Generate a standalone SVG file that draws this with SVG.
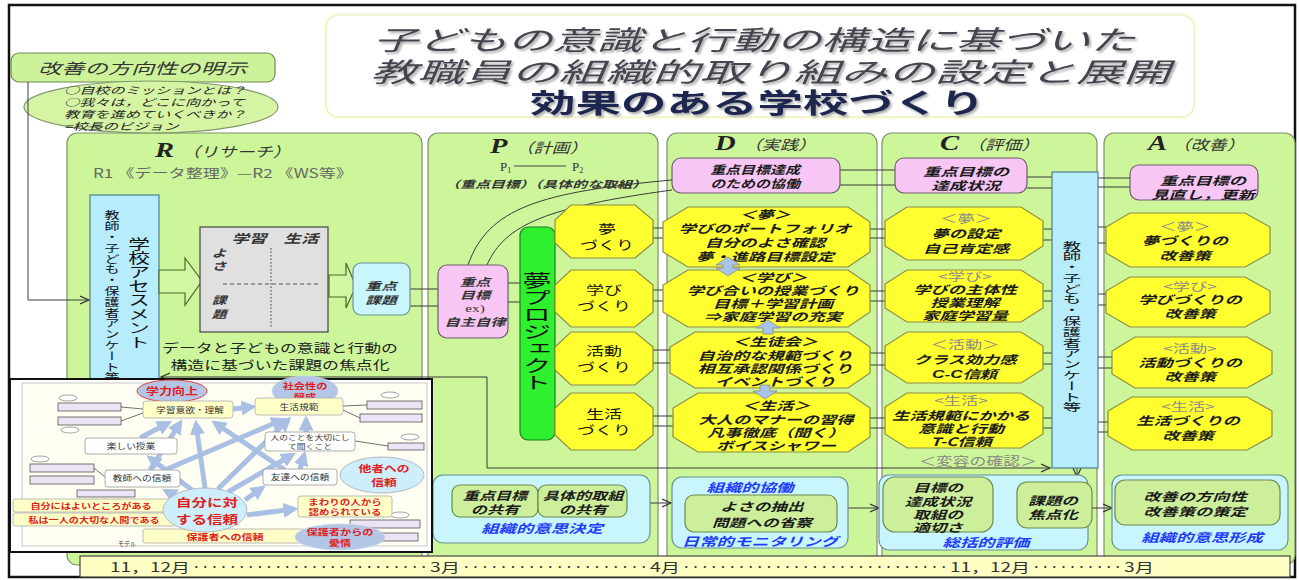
<svg xmlns="http://www.w3.org/2000/svg" width="1299" height="580" viewBox="0 0 1299 580">
<defs>
<style>
.j{font-family:"Noto Sans CJK JP","Noto Sans CJK SC",sans-serif}
.it{font-style:italic}
.bd{font-weight:bold}
.pan{fill:#cdf69a;stroke:#7d8f6a;stroke-width:1.2}
.pink{fill:#f8c6f4;stroke:#6e5e6e;stroke-width:1.2}
.oct{fill:#ffff30;stroke:#8c8c4a;stroke-width:1.2}
.cy{fill:#c9f6fd;stroke:#6a9098;stroke-width:1.2}
.bl{fill:#b6ecfc;stroke:#4f7d92;stroke-width:1.2}
.gi{fill:#cdef9c;stroke:#6a8a50;stroke-width:1.2}
.ln{fill:none;stroke:#3a3a3a;stroke-width:1}
.ot{font-family:"Noto Sans CJK JP","Noto Sans CJK SC",sans-serif;font-style:italic;font-weight:bold;font-size:11.5px;fill:#1a1a1a}
.gl{fill:#8a8a8a;font-style:normal;font-weight:normal}
.bt{font-family:"Noto Sans CJK JP","Noto Sans CJK SC",sans-serif;fill:#1e3cff;font-style:italic;font-weight:bold;font-size:12px}
.hd{font-family:"Liberation Serif",serif;font-weight:bold;font-style:italic;font-size:22px;fill:#222}
.hj{font-family:"Noto Sans CJK JP","Noto Sans CJK SC",sans-serif;font-style:italic;font-size:14px;fill:#333}
.ps{font-family:"Noto Sans CJK JP","Noto Sans CJK SC",sans-serif;font-size:12px;fill:#111}
.pill{fill:#ece4f4;stroke:#555;stroke-width:0.8}
.ia{fill:none;stroke:#a9bfe4;stroke-width:5}
.rt{font-family:"Noto Sans CJK JP","Noto Sans CJK SC",sans-serif;fill:#e0201c;font-weight:bold}
.dt{font-family:"Noto Sans CJK JP","Noto Sans CJK SC",sans-serif;fill:#333}
.yb{fill:#ffffc8;stroke:#aaa;stroke-width:0.8}
.wb{fill:#ffffff;stroke:#999;stroke-width:0.8}
.ue{fill:#b3c6e6;stroke:#c8d4ea;stroke-width:0.8}
.le{fill:#cdeefa;stroke:#aab;stroke-width:0.8}
.darr{fill:#a8c4e8;stroke:#8a8a8a;stroke-width:0.8}
</style>
<filter id="sh" x="-5%" y="-20%" width="110%" height="150%"><feDropShadow dx="2" dy="2" stdDeviation="1.2" flood-color="#777" flood-opacity="0.6"/></filter>
<filter id="glow" x="-5%" y="-10%" width="110%" height="120%"><feGaussianBlur stdDeviation="1.5"/></filter>
<marker id="oa" viewBox="0 0 10 10" refX="9" refY="5" markerWidth="10" markerHeight="10" markerUnits="userSpaceOnUse" orient="auto-start-reverse"><path d="M0,1 L9,5 L0,9" fill="none" stroke="#333" stroke-width="1.2"/></marker>
<marker id="ba" viewBox="0 0 10 10" refX="7" refY="5" markerWidth="3" markerHeight="3" orient="auto"><path d="M0,0 L10,5 L0,10 z" fill="#a9bfe4"/></marker>
</defs>

<rect x="0" y="0" width="1299" height="580" fill="#ffffff"/>
<rect x="9" y="5" width="1286" height="572" fill="none" stroke="#111" stroke-width="2.5"/>

<!-- title -->
<g id="title">
<rect x="324" y="13" width="872" height="106" rx="14" fill="#fbfbe0" filter="url(#glow)"/>
<rect x="326" y="15" width="868" height="102" rx="13" fill="#ffffff" stroke="#f0f0c8" stroke-width="1.5"/>
<text class="j it" x="373" y="50" font-size="27" fill="#44444f" textLength="762" lengthAdjust="spacingAndGlyphs" filter="url(#sh)">子どもの意識と行動の構造に基づいた</text>
<text class="j it" x="370" y="82" font-size="27" fill="#44444f" textLength="800" lengthAdjust="spacingAndGlyphs" filter="url(#sh)">教職員の組織的取り組みの設定と展開</text>
<text class="j bd" x="530" y="113" font-size="27" fill="#1c2850" textLength="455" lengthAdjust="spacingAndGlyphs" filter="url(#sh)">効果のある学校づくり</text>
</g>

<!-- panels -->
<g id="panel-R"><rect class="pan" x="67" y="133" width="355" height="432" rx="10"/>
<text transform="translate(155 0) scale(1.3 1)" y="157"><tspan class="hd">R</tspan><tspan class="hj" dx="6">（リサーチ）</tspan></text>
<text class="j" x="93" y="178" font-size="12.5" fill="#666" textLength="260" lengthAdjust="spacingAndGlyphs">R1 《データ整理》—R2 《WS等》</text>
</g>
<g id="panel-P"><rect class="pan" x="428" y="133" width="230" height="432" rx="10"/>
<text transform="translate(490 0) scale(1.3 1)" y="153"><tspan class="hd" font-size="21">P</tspan><tspan class="hj" dx="6">（計画）</tspan></text>
<text x="500" y="171" font-family="Liberation Serif, serif" font-size="13" fill="#333">P<tspan font-size="8" dy="2">1</tspan></text>
<line x1="514" y1="166" x2="566" y2="166" stroke="#444" stroke-width="1"/>
<text x="572" y="171" font-family="Liberation Serif, serif" font-size="13" fill="#333">P<tspan font-size="8" dy="2">2</tspan></text>
<text class="j it bd" x="445" y="188" font-size="10" fill="#333" textLength="202" lengthAdjust="spacingAndGlyphs">（重点目標）（具体的な取組）</text>
</g>
<g id="panel-D"><rect class="pan" x="667" y="133" width="210" height="432" rx="10"/>
<text transform="translate(715 0) scale(1.3 1)" y="150"><tspan class="hd">D</tspan><tspan class="hj" dx="6">（実践）</tspan></text>
</g>
<g id="panel-C"><rect class="pan" x="882" y="133" width="215" height="432" rx="10"/>
<text transform="translate(940 0) scale(1.3 1)" y="150"><tspan class="hd">C</tspan><tspan class="hj" dx="6">（評価）</tspan></text>
</g>
<g id="panel-A"><rect class="pan" x="1104" y="133" width="191" height="432" rx="10"/>
<text transform="translate(1148 0) scale(1.3 1)" y="150"><tspan class="hd">A</tspan><tspan class="hj" dx="4">（改善）</tspan></text>
</g>

<!-- top-left -->
<g id="direction">
<rect x="11" y="53" width="264" height="29" rx="8" fill="#cdf39a" stroke="#6e8a50" stroke-width="1.2"/>
<text class="j it" x="38" y="74" font-size="15" fill="#333" textLength="209" lengthAdjust="spacingAndGlyphs">改善の方向性の明示</text>
</g>
<g id="vision">
<ellipse cx="151" cy="107" rx="127" ry="26" fill="#d5f5a5" stroke="#7f9a6a" stroke-width="1.2"/>
<text class="j it" transform="translate(64 0) scale(1.55 1)" font-size="9.8" fill="#222"><tspan x="0" y="94">○自校のミッションとは？</tspan><tspan x="0" y="106">○我々は，どこに向かって</tspan><tspan x="0" y="118">教育を進めていくべきか？</tspan><tspan x="0" y="130">=校長のビジョン</tspan></text>
</g>

<!-- connectors -->
<g id="connectors">
<polyline class="ln" points="28,82 28,300 89,300" marker-end="url(#oa)"/>
<path class="ln" d="M161,377 H487 V468 H1050" marker-start="url(#oa)" marker-end="url(#oa)"/>
<line class="ln" x1="410" y1="289" x2="438" y2="289"/><line class="ln" x1="410" y1="306" x2="438" y2="306"/>
<line class="ln" x1="508" y1="283" x2="520" y2="283"/><line class="ln" x1="508" y1="302" x2="520" y2="302"/>
<path class="ln" d="M468,265 C488,208 540,192 672,180"/>
<path class="ln" d="M487,265 C505,224 548,207 672,190"/>
<line class="ln" x1="840" y1="170" x2="895" y2="170"/><line class="ln" x1="840" y1="185" x2="895" y2="185"/>
<line class="ln" x1="1027" y1="177" x2="1052" y2="177"/><line class="ln" x1="1027" y1="188" x2="1052" y2="188"/>
<line class="ln" x1="1098" y1="178" x2="1130" y2="178"/><line class="ln" x1="1098" y1="187" x2="1130" y2="187"/>
<line class="ln" x1="653" y1="228" x2="663" y2="228"/><line class="ln" x1="653" y1="238" x2="663" y2="238"/>
<line class="ln" x1="653" y1="290" x2="663" y2="290"/><line class="ln" x1="653" y1="301" x2="663" y2="301"/>
<line class="ln" x1="653" y1="350" x2="670" y2="350"/><line class="ln" x1="653" y1="363" x2="670" y2="363"/>
<line class="ln" x1="653" y1="416" x2="673" y2="416"/><line class="ln" x1="653" y1="426" x2="673" y2="426"/>
<line class="ln" x1="870" y1="229" x2="885" y2="229"/><line class="ln" x1="870" y1="238" x2="885" y2="238"/>
<line class="ln" x1="870" y1="291" x2="885" y2="291"/><line class="ln" x1="870" y1="301" x2="885" y2="301"/>
<line class="ln" x1="870" y1="353" x2="885" y2="353"/><line class="ln" x1="870" y1="365" x2="885" y2="365"/>
<line class="ln" x1="870" y1="418" x2="885" y2="418"/><line class="ln" x1="870" y1="428" x2="885" y2="428"/>
<line class="ln" x1="1043" y1="229" x2="1052" y2="229"/><line class="ln" x1="1043" y1="240" x2="1052" y2="240"/>
<line class="ln" x1="1043" y1="291" x2="1052" y2="291"/><line class="ln" x1="1043" y1="301" x2="1052" y2="301"/>
<line class="ln" x1="1043" y1="353" x2="1052" y2="353"/><line class="ln" x1="1043" y1="364" x2="1052" y2="364"/>
<line class="ln" x1="1043" y1="418" x2="1052" y2="418"/><line class="ln" x1="1043" y1="428" x2="1052" y2="428"/>
<line class="ln" x1="1098" y1="227" x2="1106" y2="227"/><line class="ln" x1="1098" y1="243" x2="1106" y2="243"/>
<line class="ln" x1="1098" y1="294" x2="1106" y2="294"/><line class="ln" x1="1098" y1="305" x2="1106" y2="305"/>
<line class="ln" x1="1098" y1="357" x2="1112" y2="357"/><line class="ln" x1="1098" y1="368" x2="1112" y2="368"/>
<line class="ln" x1="1098" y1="422" x2="1108" y2="422"/><line class="ln" x1="1098" y1="432" x2="1108" y2="432"/>
<line class="ln" x1="650" y1="503" x2="671" y2="503" marker-end="url(#oa)"/>
<line class="ln" x1="848" y1="508" x2="879" y2="508" marker-end="url(#oa)"/>
<line class="ln" x1="993" y1="508" x2="1016" y2="508" marker-end="url(#oa)"/>
<line class="ln" x1="1092" y1="508" x2="1112" y2="508" marker-end="url(#oa)"/>
<line class="ln" x1="1077" y1="468" x2="1077" y2="477" marker-end="url(#oa)"/>
</g>

<!-- R nodes -->
<g id="assessment">
<rect class="bl" x="90" y="195" width="69" height="190"/>
<text class="j" transform="translate(139 237) scale(1.55 1)" writing-mode="vertical-rl" font-size="14" fill="#111">学校アセスメント</text>
<text class="j" transform="translate(112 210) scale(1.4 1)" writing-mode="vertical-rl" font-size="10.8" fill="#111">教師・子ども・保護者アンケート等</text>
</g>
<g id="arrow-r1"><polygon points="159,270 185,270 185,258 202,281 185,305 185,293 159,293" fill="#d4f7a5" stroke="#4a6a2a" stroke-width="1.2"/></g>
<g id="matrix">
<rect x="200" y="227" width="128" height="105" fill="#e0e0e0" stroke="#444" stroke-width="1.2"/>
<line x1="271" y1="248" x2="271" y2="327" stroke="#555" stroke-width="1.2" stroke-dasharray="1.5 2"/>
<line x1="223" y1="284" x2="320" y2="284" stroke="#555" stroke-width="1" stroke-dasharray="4 3"/>
<text class="j it bd" text-anchor="middle" transform="translate(249 0) scale(1.45 1)" y="243" font-size="12" fill="#333">学習</text>
<text class="j it bd" text-anchor="middle" transform="translate(301 0) scale(1.45 1)" y="243" font-size="12" fill="#333">生活</text>
<text class="j it bd" text-anchor="middle" transform="translate(219 0) scale(1.4 1)" font-size="10.5" fill="#333"><tspan x="0" y="257">よ</tspan><tspan x="0" y="270">さ</tspan><tspan x="0" y="304">課</tspan><tspan x="0" y="318">題</tspan></text>
</g>
<g id="arrow-r2"><polygon points="329,275 346,275 346,263 356,286 346,308 346,297 329,297" fill="#d4f7a5" stroke="#4a6a2a" stroke-width="1.2"/></g>
<g id="key-issue">
<rect class="cy" x="353" y="263" width="57" height="52" rx="8"/>
<text class="j it bd" text-anchor="middle" transform="translate(381 0) scale(1.5 1)" font-size="10.5" fill="#333"><tspan x="0" y="290">重点</tspan><tspan x="0" y="304">課題</tspan></text>
</g>
<g id="focus-text">
<text class="j" text-anchor="middle" transform="translate(280 0) scale(1.35 1)" font-size="12.5" fill="#222"><tspan x="0" y="353">データと子どもの意識と行動の</tspan><tspan x="0" y="370">構造に基づいた課題の焦点化</tspan></text>
</g>

<!-- P nodes -->
<g id="key-goal">
<rect class="pink" x="438" y="265" width="70" height="73" rx="9"/>
<text class="j it bd" text-anchor="middle" transform="translate(475 0) scale(1.45 1)" font-size="10.5" fill="#333"><tspan x="0" y="286">重点</tspan><tspan x="0" y="299">目標</tspan><tspan x="0" y="312" font-family="Liberation Serif, serif" font-style="normal" font-weight="normal">ex)</tspan><tspan x="0" y="326">自主自律</tspan></text>
</g>
<g id="dream-project">
<rect x="520" y="227" width="35" height="213" rx="8" fill="#2ef02e" stroke="#1a801a" stroke-width="1.2"/>
<text class="j" transform="translate(537 272) scale(1.7 1)" writing-mode="vertical-rl" font-size="17" fill="#111">夢プロジェクト</text>
</g>
<g id="p-dream"><polygon class="oct" points="571,205 635,205 653,220 653,243 635,258 571,258 555,243 555,220"/>
<text class="ps" text-anchor="middle" transform="translate(607 0) scale(1.5 1)"><tspan x="0" y="234">夢</tspan><tspan x="0" y="250">づくり</tspan></text></g>
<g id="p-learn"><polygon class="oct" points="571,270 635,270 653,285 653,312 635,327 571,327 555,312 555,285"/>
<text class="ps" text-anchor="middle" transform="translate(604 0) scale(1.5 1)"><tspan x="0" y="295">学び</tspan><tspan x="0" y="311">づくり</tspan></text></g>
<g id="p-activity"><polygon class="oct" points="571,332 635,332 653,347 653,370 635,385 571,385 555,370 555,347"/>
<text class="ps" text-anchor="middle" transform="translate(604 0) scale(1.5 1)"><tspan x="0" y="356">活動</tspan><tspan x="0" y="372">づくり</tspan></text></g>
<g id="p-life"><polygon class="oct" points="571,393 635,393 653,408 653,435 635,450 571,450 555,435 555,408"/>
<text class="ps" text-anchor="middle" transform="translate(604 0) scale(1.5 1)"><tspan x="0" y="419">生活</tspan><tspan x="0" y="435">づくり</tspan></text></g>

<!-- D nodes -->
<g id="d-goal"><rect class="pink" x="672" y="158" width="168" height="35" rx="9"/>
<text class="ot" text-anchor="middle" transform="translate(755 0) scale(1.3 1)" font-size="10.5"><tspan x="0" y="174">重点目標達成</tspan><tspan x="0" y="188">のための協働</tspan></text></g>
<g id="d-dream"><polygon class="oct" points="688,207 848,207 870,222 870,252 848,267 688,267 663,252 663,222"/>
<text class="ot" text-anchor="middle" transform="translate(765 0) scale(1.5 1)"><tspan x="0" y="219">＜夢＞</tspan><tspan x="0" y="233">学びのポートフォリオ</tspan><tspan x="0" y="247">自分のよさ確認</tspan><tspan x="0" y="261">夢・進路目標設定</tspan></text></g>
<g id="d-learn"><polygon class="oct" points="688,270 848,270 870,285 870,312 848,327 688,327 663,312 663,285"/>
<text class="ot" text-anchor="middle" transform="translate(773 0) scale(1.5 1)"><tspan x="0" y="282">＜学び＞</tspan><tspan x="0" y="295">学び合いの授業づくり</tspan><tspan x="0" y="308">目標＋学習計画</tspan><tspan x="0" y="321">⇒家庭学習の充実</tspan></text></g>
<g id="d-council"><polygon class="oct" points="695,332 848,332 870,347 870,373 848,388 695,388 670,373 670,347"/>
<text class="ot" text-anchor="middle" transform="translate(775 0) scale(1.5 1)"><tspan x="0" y="346">＜生徒会＞</tspan><tspan x="0" y="360">自治的な規範づくり</tspan><tspan x="0" y="373">相互承認関係づくり</tspan><tspan x="0" y="386">イベントづくり</tspan></text></g>
<g id="d-life"><polygon class="oct" points="698,393 848,393 870,408 870,437 848,452 698,452 673,437 673,408"/>
<text class="ot" text-anchor="middle" transform="translate(776 0) scale(1.5 1)"><tspan x="0" y="410">＜生活＞</tspan><tspan x="0" y="424">大人のマナーの習得</tspan><tspan x="0" y="437">凡事徹底（聞く）</tspan><tspan x="0" y="450">ボイスシャワー</tspan></text></g>
<g id="d-arrows">
<polygon class="darr" points="728,257 740,265 733,265 733,268 740,268 728,276 716,268 723,268 723,265 716,265"/>
<polygon class="darr" points="768,320 780,328 773,328 773,334 763,334 763,328 756,328"/>
<polygon class="darr" points="760,385 770,385 770,391 777,391 765,399 753,391 760,391"/>
</g>

<!-- C nodes -->
<g id="c-goal"><rect class="pink" x="895" y="158" width="132" height="35" rx="9"/>
<text class="ot" text-anchor="middle" transform="translate(966 0) scale(1.5 1)"><tspan x="0" y="176">重点目標の</tspan><tspan x="0" y="190">達成状況</tspan></text></g>
<g id="c-dream"><polygon class="oct" points="907,207 1021,207 1043,221 1043,246 1021,260 907,260 885,246 885,221"/>
<text class="ot" text-anchor="middle" transform="translate(966 0) scale(1.5 1)"><tspan class="gl" x="0" y="223">＜夢＞</tspan><tspan x="0" y="238">夢の設定</tspan><tspan x="0" y="253">自己肯定感</tspan></text></g>
<g id="c-learn"><polygon class="oct" points="907,270 1021,270 1043,284 1043,308 1021,322 907,322 885,308 885,284"/>
<text class="ot" text-anchor="middle" transform="translate(965 0) scale(1.5 1)"><tspan class="gl" x="0" y="281">&lt;学び&gt;</tspan><tspan x="0" y="294">学びの主体性</tspan><tspan x="0" y="307">授業理解</tspan><tspan x="0" y="320">家庭学習量</tspan></text></g>
<g id="c-activity"><polygon class="oct" points="907,332 1021,332 1043,346 1043,369 1021,383 907,383 885,369 885,346"/>
<text class="ot" text-anchor="middle" transform="translate(965 0) scale(1.5 1)"><tspan class="gl" x="0" y="349">＜活動＞</tspan><tspan x="0" y="364">クラス効力感</tspan><tspan x="0" y="378" font-family="Liberation Sans, sans-serif">C-C信頼</tspan></text></g>
<g id="c-life"><polygon class="oct" points="907,393 1021,393 1043,407 1043,434 1021,448 907,448 885,434 885,407"/>
<text class="ot" text-anchor="middle" transform="translate(961 0) scale(1.5 1)"><tspan class="gl" x="0" y="405">&lt;生活&gt;</tspan><tspan x="0" y="420">生活規範にかかる</tspan><tspan x="0" y="433">意識と行動</tspan><tspan x="0" y="446">T-C信頼</tspan></text></g>
<g id="c-change"><text class="j" text-anchor="middle" transform="translate(978 0) scale(1.4 1)" y="466" font-size="12" fill="#888">＜変容の確認＞</text></g>
<g id="c-survey"><rect class="bl" x="1052" y="172" width="46" height="296"/>
<text class="j" transform="translate(1072 240) scale(1.7 1)" writing-mode="vertical-rl" font-size="10.8" fill="#111">教師・子ども・保護者アンケート等</text></g>

<!-- A nodes -->
<g id="a-goal"><rect class="pink" x="1130" y="165" width="128" height="35" rx="9"/>
<text class="ot" text-anchor="middle" transform="translate(1203 0) scale(1.5 1)"><tspan x="0" y="185">重点目標の</tspan><tspan x="0" y="199">見直し，更新</tspan></text></g>
<g id="a-dream"><polygon class="oct" points="1130,213 1245,213 1270,227 1270,253 1245,267 1130,267 1106,253 1106,227"/>
<text class="ot" text-anchor="middle" transform="translate(1185 0) scale(1.5 1)"><tspan class="gl" x="0" y="231">＜夢＞</tspan><tspan x="0" y="245">夢づくりの</tspan><tspan x="0" y="260">改善策</tspan></text></g>
<g id="a-learn"><polygon class="oct" points="1130,277 1245,277 1270,291 1270,313 1245,327 1130,327 1106,313 1106,291"/>
<text class="ot" text-anchor="middle" transform="translate(1190 0) scale(1.5 1)"><tspan class="gl" x="0" y="291">&lt;学び&gt;</tspan><tspan x="0" y="304">学びづくりの</tspan><tspan x="0" y="318">改善策</tspan></text></g>
<g id="a-activity"><polygon class="oct" points="1135,337 1247,337 1272,351 1272,374 1247,388 1135,388 1112,374 1112,351"/>
<text class="ot" text-anchor="middle" transform="translate(1190 0) scale(1.5 1)"><tspan class="gl" x="0" y="353">&lt;活動&gt;</tspan><tspan x="0" y="367">活動づくりの</tspan><tspan x="0" y="381">改善策</tspan></text></g>
<g id="a-life"><polygon class="oct" points="1132,397 1247,397 1272,411 1272,436 1247,450 1132,450 1108,436 1108,411"/>
<text class="ot" text-anchor="middle" transform="translate(1188 0) scale(1.5 1)"><tspan class="gl" x="0" y="411">&lt;生活&gt;</tspan><tspan x="0" y="425">生活づくりの</tspan><tspan x="0" y="440">改善策</tspan></text></g>

<!-- bottom row -->
<g id="p-bottom"><rect class="cy" x="433" y="475" width="217" height="68" rx="10"/>
<rect class="gi" x="452" y="485" width="86" height="32" rx="8"/>
<rect class="gi" x="538" y="485" width="89" height="32" rx="8"/>
<text class="ot" text-anchor="middle" transform="translate(495 0) scale(1.4 1)" font-size="10.5"><tspan x="0" y="500">重点目標</tspan><tspan x="0" y="514">の共有</tspan></text>
<text class="ot" text-anchor="middle" transform="translate(583 0) scale(1.4 1)" font-size="10.5"><tspan x="0" y="500">具体的取組</tspan><tspan x="0" y="514">の共有</tspan></text>
<text class="bt" text-anchor="middle" transform="translate(542 0) scale(1.45 1)" y="533" font-size="12">組織的意思決定</text></g>
<g id="d-bottom"><rect class="cy" x="672" y="477" width="176" height="71" rx="10"/>
<text class="bt" text-anchor="middle" transform="translate(750 0) scale(1.45 1)" y="492" font-size="11.5">組織的協働</text>
<rect class="gi" x="685" y="495" width="152" height="37" rx="9"/>
<text class="ot" text-anchor="middle" transform="translate(762 0) scale(1.45 1)" font-size="11.5"><tspan x="0" y="511">よさの抽出</tspan><tspan x="0" y="527">問題への省察</tspan></text>
<text class="bt" text-anchor="middle" transform="translate(760 0) scale(1.45 1)" y="546" font-size="11.5">日常的モニタリング</text></g>
<g id="c-bottom"><rect class="cy" x="879" y="475" width="209" height="75" rx="10"/>
<rect class="gi" x="883" y="477" width="110" height="55" rx="12"/>
<text class="ot" text-anchor="middle" transform="translate(938 0) scale(1.45 1)" font-size="11.5"><tspan x="0" y="492">目標の</tspan><tspan x="0" y="506">達成状況</tspan><tspan x="0" y="519">取組の</tspan><tspan x="0" y="532">適切さ</tspan></text>
<rect class="gi" x="1017" y="482" width="75" height="46" rx="10"/>
<text class="ot" text-anchor="middle" transform="translate(1053 0) scale(1.45 1)" font-size="11.5"><tspan x="0" y="505">課題の</tspan><tspan x="0" y="519">焦点化</tspan></text>
<text class="bt" text-anchor="middle" transform="translate(986 0) scale(1.45 1)" y="547" font-size="11.5">総括的評価</text></g>
<g id="a-bottom"><rect class="cy" x="1112" y="475" width="176" height="75" rx="10"/>
<rect class="gi" x="1115" y="480" width="165" height="45" rx="10"/>
<text class="ot" text-anchor="middle" transform="translate(1195 0) scale(1.5 1)" font-size="11.5"><tspan x="0" y="501">改善の方向性</tspan><tspan x="0" y="516">改善策の策定</tspan></text>
<text class="bt" text-anchor="middle" transform="translate(1202 0) scale(1.45 1)" y="542" font-size="11.5">組織的意思形成</text></g>

<!-- inset model picture -->
<g id="model-inset">
<rect x="10" y="379" width="422" height="173" fill="#ffffff" stroke="#111" stroke-width="2"/>
<rect x="22" y="383" width="405" height="163" fill="#fffef2" stroke="#c8c8c8" stroke-width="1"/>
<rect class="pill" x="58" y="403" width="63" height="8"/><rect class="pill" x="58" y="417" width="63" height="8"/>
<rect class="pill" x="30" y="464" width="64" height="8"/><rect class="pill" x="30" y="476" width="64" height="8"/>
<rect class="pill" x="77" y="490" width="58" height="7"/>
<rect class="pill" x="367" y="401" width="55" height="8"/><rect class="pill" x="360" y="414" width="62" height="8"/>
<rect class="pill" x="388" y="443" width="36" height="7"/>
<rect class="pill" x="350" y="520" width="70" height="8"/><rect class="pill" x="350" y="533" width="68" height="8"/>
<ellipse cx="68" cy="398" rx="9" ry="3" fill="#fff" stroke="#666" stroke-width="0.6"/>
<ellipse cx="70" cy="430" rx="9" ry="3" fill="#fff" stroke="#666" stroke-width="0.6"/>
<ellipse cx="40" cy="459" rx="9" ry="3" fill="#fff" stroke="#666" stroke-width="0.6"/>
<ellipse cx="390" cy="395" rx="9" ry="3" fill="#fff" stroke="#666" stroke-width="0.6"/>
<ellipse cx="410" cy="437" rx="9" ry="3" fill="#fff" stroke="#666" stroke-width="0.6"/>
<ellipse cx="400" cy="515" rx="9" ry="3" fill="#fff" stroke="#666" stroke-width="0.6"/>
<line x1="121" y1="407" x2="143" y2="409" stroke="#333" stroke-width="0.7"/>
<line x1="121" y1="421" x2="143" y2="413" stroke="#333" stroke-width="0.7"/>
<line x1="94" y1="468" x2="105" y2="477" stroke="#333" stroke-width="0.7"/>
<line x1="343" y1="406" x2="367" y2="405" stroke="#333" stroke-width="0.7"/>
<line x1="343" y1="410" x2="360" y2="418" stroke="#333" stroke-width="0.7"/>
<line x1="355" y1="441" x2="388" y2="446" stroke="#333" stroke-width="0.7"/>
<path class="ia" d="M205,488 L196,424" marker-end="url(#ba)"/>
<path class="ia" d="M218,489 L288,420" marker-end="url(#ba)"/>
<path class="ia" d="M192,490 L150,458" marker-end="url(#ba)"/>
<path class="ia" d="M228,492 L292,455" marker-end="url(#ba)"/>
<path class="ia" d="M245,500 L262,488" marker-end="url(#ba)"/>
<path class="ia" d="M150,470 L180,423" marker-end="url(#ba)"/>
<path class="ia" d="M165,470 L282,420" marker-end="url(#ba)"/>
<path class="ia" d="M300,469 L304,455" marker-end="url(#ba)"/>
<path class="ia" d="M285,470 L215,423" marker-end="url(#ba)"/>
<path class="ia" d="M140,438 L168,423" marker-end="url(#ba)"/>
<path class="ia" d="M306,432 L306,420" marker-end="url(#ba)"/>
<path class="ia" d="M233,409 L252,407" marker-end="url(#ba)"/>
<path class="ia" d="M247,515 L294,509" marker-end="url(#ba)"/>
<path class="ia" d="M175,496 L166,491" marker-end="url(#ba)"/>
<ellipse cx="172" cy="391" rx="35" ry="11" fill="#b3c6e6" stroke="#e04040" stroke-width="1"/>
<text class="rt" text-anchor="middle" transform="translate(172 0) scale(1.3 1)" y="395" font-size="10">学力向上</text>
<ellipse class="ue" cx="305" cy="391" rx="33" ry="15"/>
<text class="rt" text-anchor="middle" transform="translate(305 0) scale(1.4 1)" font-size="8"><tspan x="0" y="389">社会性の</tspan><tspan x="0" y="400">醸成</tspan></text>
<rect class="yb" x="143" y="401" width="90" height="17" rx="3"/>
<text class="dt" text-anchor="middle" transform="translate(190 0) scale(1.3 1)" y="413" font-size="7.5">学習意欲・理解</text>
<rect class="yb" x="255" y="398" width="88" height="17" rx="3"/>
<text class="dt" text-anchor="middle" transform="translate(299 0) scale(1.3 1)" y="410" font-size="7.5">生活規範</text>
<rect class="wb" x="85" y="438" width="92" height="16" rx="3"/>
<text class="dt" text-anchor="middle" transform="translate(131 0) scale(1.3 1)" y="449" font-size="7.5">楽しい授業</text>
<rect class="wb" x="265" y="432" width="90" height="19" rx="3"/>
<text class="dt" text-anchor="middle" transform="translate(310 0) scale(1.35 1)" font-size="6.5"><tspan x="0" y="440">人のことを大切にし</tspan><tspan x="0" y="449">て聞くこと</tspan></text>
<rect class="wb" x="105" y="470" width="75" height="17" rx="3"/>
<text class="dt" text-anchor="middle" transform="translate(142 0) scale(1.3 1)" y="481" font-size="7.5">教師への信頼</text>
<rect class="wb" x="263" y="469" width="74" height="16" rx="3"/>
<text class="dt" text-anchor="middle" transform="translate(300 0) scale(1.3 1)" y="480" font-size="7.5">友達への信頼</text>
<ellipse class="le" cx="382" cy="475" rx="42" ry="18"/>
<text class="rt" text-anchor="middle" transform="translate(384 0) scale(1.35 1)" font-size="9.5" font-weight="normal"><tspan x="0" y="472">他者への</tspan><tspan x="0" y="486">信頼</tspan></text>
<rect class="yb" x="13" y="499" width="162" height="13" rx="2"/>
<text class="rt" text-anchor="middle" transform="translate(91 0) scale(1.35 1)" y="509" font-size="7.5">自分にはよいところがある</text>
<rect class="yb" x="13" y="513" width="162" height="13" rx="2"/>
<text class="rt" text-anchor="middle" transform="translate(94 0) scale(1.35 1)" y="523" font-size="7.5">私は一人の大切な人間である</text>
<rect class="yb" x="143" y="529" width="162" height="14" rx="2"/>
<text class="rt" text-anchor="middle" transform="translate(225 0) scale(1.3 1)" y="540" font-size="8.5">保護者への信頼</text>
<ellipse class="le" cx="205" cy="510" rx="42" ry="22"/>
<text class="rt" text-anchor="middle" transform="translate(207 0) scale(1.35 1)" font-size="11.5" font-weight="normal"><tspan x="0" y="507">自分に対</tspan><tspan x="0" y="524">する信頼</tspan></text>
<rect class="yb" x="298" y="496" width="94" height="21" rx="3"/>
<text class="rt" text-anchor="middle" transform="translate(345 0) scale(1.4 1)" font-size="7.5" font-weight="normal"><tspan x="0" y="505">まわりの人から</tspan><tspan x="0" y="515">認められている</tspan></text>
<ellipse class="ue" cx="340" cy="537" rx="45" ry="13"/>
<text class="rt" text-anchor="middle" transform="translate(340 0) scale(1.4 1)" font-size="8" font-weight="normal"><tspan x="0" y="535">保護者からの</tspan><tspan x="0" y="546">愛情</tspan></text>
<text class="dt" x="118" y="546" font-size="6" fill="#aaa">モデル</text>
</g>

<!-- timeline -->
<g id="timeline">
<rect x="80" y="556" width="1210" height="21" fill="#ffffc4" stroke="#444" stroke-width="1.2"/>
<g class="j" font-size="13" fill="#333">
<text x="110" y="572" textLength="80" lengthAdjust="spacingAndGlyphs">11，12月</text>
<text x="193" y="572" textLength="234" lengthAdjust="spacing">･･････････････････････････</text>
<text x="430" y="572" textLength="30" lengthAdjust="spacingAndGlyphs">3月</text>
<text x="463" y="572" textLength="184" lengthAdjust="spacing">････････････････････</text>
<text x="650" y="572" textLength="30" lengthAdjust="spacingAndGlyphs">4月</text>
<text x="683" y="572" textLength="264" lengthAdjust="spacing">･････････････････････････････</text>
<text x="950" y="572" textLength="80" lengthAdjust="spacingAndGlyphs">11，12月</text>
<text x="1033" y="572" textLength="88" lengthAdjust="spacing">･･････････</text>
<text x="1124" y="572" textLength="30" lengthAdjust="spacingAndGlyphs">3月</text>
</g>
</g>
</svg>
